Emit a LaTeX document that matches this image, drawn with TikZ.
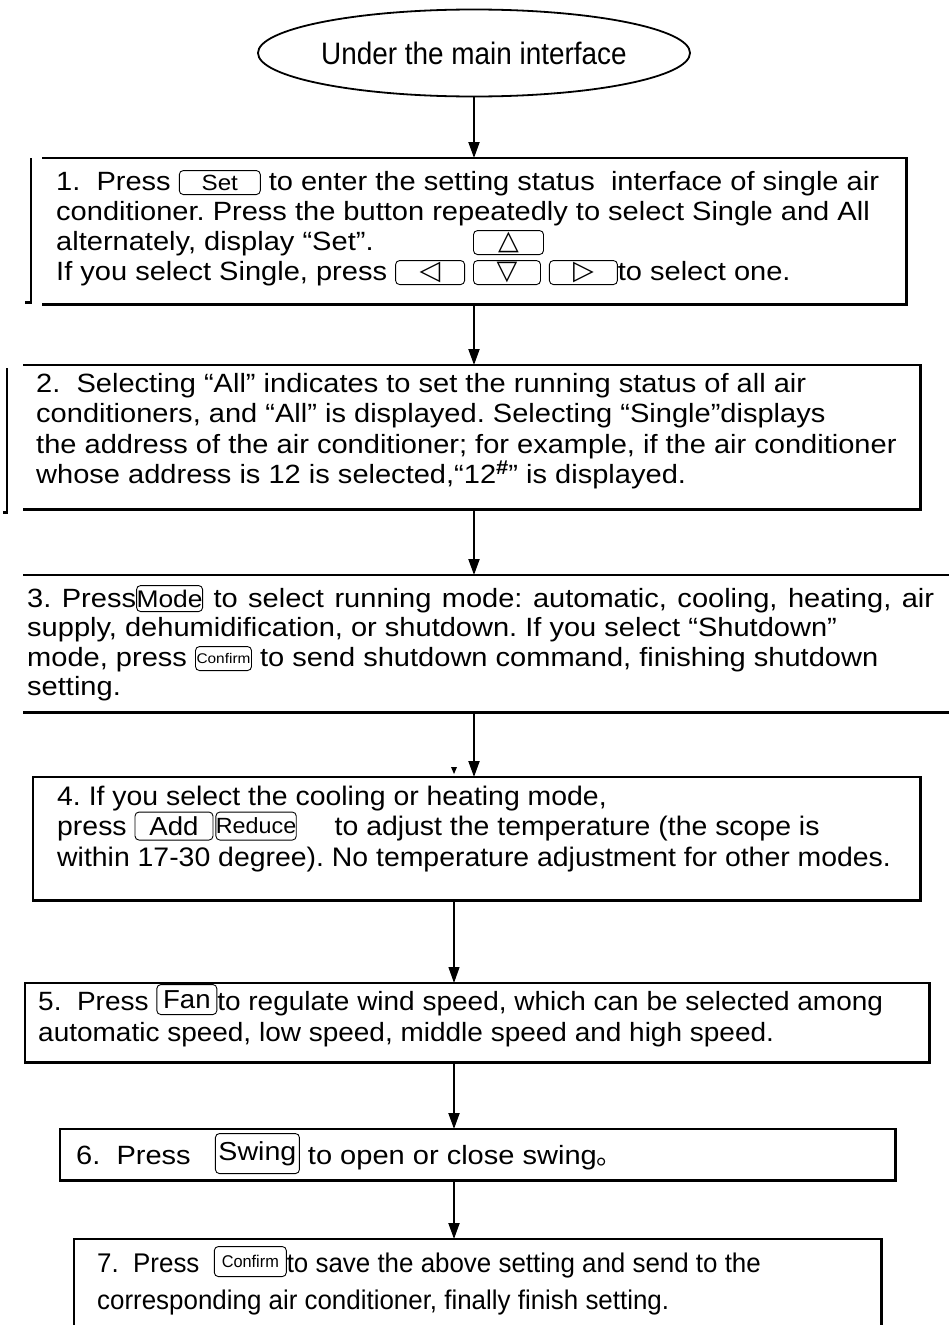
\documentclass[tikz,border=0pt]{standalone}
\usepackage{fontspec}
\setmainfont{Liberation Sans}[FakeStretch=1.1]
\newfontfamily\midfont{Liberation Sans}[FakeStretch=1.06]
\newfontfamily\narrowfont{Liberation Sans}[FakeStretch=0.96]
\newfontfamily\ovalfont{Liberation Sans}[FakeStretch=0.9]
\newfontfamily\symfont{DejaVu Sans}
\newfontfamily\cjkfont{Noto Sans CJK SC}
\usetikzlibrary{arrows.meta,positioning,shapes.geometric}

\newcommand\stepfont{\fontsize{26.4}{30}\selectfont}
\newlength\btndrop
\setlength\btndrop{5pt}
\newcommand\btn[3][]{\tikz[baseline={([yshift=\btndrop]k.south)}]\node[keycap,minimum width=#2pt,#1](k){#3};}
\newcommand\tri[1]{{\symfont\fontsize{27}{27}\selectfont #1}}
\newcommand\steplines[2][30pt]{\vtop{\baselineskip=#1\lineskiplimit=-100pt\lineskip=0pt\halign{##\hfil\cr#2\crcr}}}

\tikzset{
  frame/.style={line width=2.2pt},
  flow/.style={line width=2pt,-{Triangle[length=16pt,width=11pt]}},
  keycap/.style={draw,line width=0.9pt,rounded corners=4pt,inner sep=0pt,anchor=center,
    minimum height=24pt,font=\fontsize{22}{22}\selectfont},
  steptext/.style={inner sep=0pt,anchor=base west,font=\stepfont},
  area/.style 2 args={inner sep=0pt,anchor=north west,minimum width=#1pt,minimum height=#2pt},
}

\begin{document}
\frenchspacing
\begin{tikzpicture}[x=1pt,y=-1pt]
  \useasboundingbox (0,0) rectangle (949,1325);

  % start
  \node[ellipse,draw,line width=1.8pt,inner sep=0pt,minimum width=345pt,minimum height=87pt,
    font=\ovalfont\fontsize{31}{30}\selectfont] (start) at (474,53) {Under the main interface};

  % step areas
  \node[area={864}{146}] (s1) at (42,158) {};
  \node[area={897}{144}] (s2) at (23,365) {};
  \node[area={940}{137}] (s3) at (23,575) {};
  \node[area={887}{123}] (s4) at (33,777) {};
  \node[area={904}{79}] (s5) at (25,983) {};
  \node[area={835}{51}] (s6) at (60,1129) {};
  \node[area={807}{120}] (s7) at (74,1239) {};
  \coordinate (hi) at (474,0);
  \coordinate (lo) at (454,0);

  % frames
  \draw[frame] (s1.north west) -| (s1.south east) -- (s1.south west);
  \draw[frame] ([xshift=-11pt]s1.north west) |- ([xshift=-17pt,yshift=2pt]s1.south west);
  \draw[frame] (s2.north west) -| (s2.south east) -- (s2.south west);
  \draw[frame] ([xshift=-16pt,yshift=-3pt]s2.north west) |- ([xshift=-20pt,yshift=-3pt]s2.south west);
  \draw[frame,line width=2.6pt] (s3.north west) -- (s3.north east) (s3.south west) -- (s3.south east);
  \draw[frame] (s4.north west) rectangle (s4.south east);
  \draw[frame] (s5.north west) rectangle (s5.south east);
  \draw[frame] (s6.north west) rectangle (s6.south east);
  \draw[frame] (s7.south west) |- (s7.north east) -- (s7.south east);

  % texts
  \node[steptext] (t1) at (56,190) {\steplines{%
    1.\ \ Press \btn{81}{Set} to enter the setting status\ \ interface of single air\cr
    conditioner. Press the button repeatedly to select Single and All\cr
    \rlap{alternately, display “Set”.}\phantom{If you select Single, press \btn{69}{\tri{◁}}\hspace{8pt}}\btn{70}{\tri{△}}\cr
    If you select Single, press \btn{69}{\tri{◁}}\hspace{8pt}\btn{67}{\tri{▽}}\hspace{8pt}\btn{68}{\tri{▷}}to select one.}};
  \node[steptext] (t2) at (36,392) {\steplines[30.5pt]{%
    2.\ \ Selecting “All” indicates to set the running status of all air\cr
    conditioners, and “All” is displayed. Selecting “Single”displays\cr
    the address of the air conditioner; for example, if the air conditioner\cr
    whose address is 12 is selected,“12\raisebox{9pt}{\fontsize{20}{20}\selectfont\bfseries\#}” is displayed.}};
  \node[steptext] (t3) at (27,607) {\steplines[29.5pt]{%
    \makebox[907pt][s]{3. Press\btn[minimum height=26pt,font=\fontsize{24}{24}\selectfont]{66}{Mode} to select running mode: automatic, cooling, heating, air}\cr
    supply, dehumidification, or shutdown. If you select “Shutdown”\cr
    mode, press \btn[font=\fontsize{14}{14}\selectfont]{56}{Confirm} to send shutdown command, finishing shutdown\cr
    setting.}};
  \node[steptext,font=\midfont\fontsize{26.8}{30}\selectfont] (t4) at (57,805) {\steplines[30.5pt]{%
    4. If you select the cooling or heating mode,\cr
    press \btn[minimum height=28pt,font=\fontsize{26}{26}\selectfont]{78}{Add}\hspace{2pt}\btn[minimum height=28pt,font=\fontsize{22}{22}\selectfont]{80}{Reduce}\hspace{38pt}to adjust the temperature (the scope is\cr
    within 17-30 degree). No temperature adjustment for other modes.}};
  \node[steptext,font=\midfont\fontsize{26.4}{30}\selectfont] (t5) at (38,1010) {\steplines[31pt]{%
    5.\ \ Press \btn[minimum height=30pt,font=\fontsize{26}{26}\selectfont]{60}{Fan}to regulate wind speed, which can be selected among\cr
    automatic speed, low speed, middle speed and high speed.}};
  \node[steptext] (t6) at (76,1164) {%
    6.\ \ Press\ \ \ {\setlength\btndrop{10pt}\btn[minimum height=40pt,font=\fontsize{26}{26}\selectfont]{84}{Swing}} to open or close swing{\cjkfont 。}};
  \node[steptext,font=\narrowfont\fontsize{27}{30}\selectfont] (t7) at (97,1272) {\steplines[37pt]{%
    7.\ \ Press\ \ \btn[minimum height=30pt,font=\fontsize{17}{17}\selectfont]{72}{Confirm}to save the above setting and send to the\cr
    corresponding air conditioner, finally finish setting.}};

  % connectors
  \draw[flow] (start.south) -- (s1.north -| start.south);
  \draw[flow] (s1.south -| hi) -- (s2.north -| hi);
  \draw[flow] (s2.south -| hi) -- (s3.north -| hi);
  \draw[flow] (s3.south -| hi) -- (s4.north -| hi);
  \fill (s4.north -| lo) ++(-3,-10) -- ++(6,0) -- ++(-3,7) -- cycle;
  \draw[flow,line width=1.2pt] (s4.south -| lo) -- (s5.north -| lo);
  \draw[flow] (s5.south -| lo) -- (s6.north -| lo);
  \draw[flow] (s6.south -| lo) -- (s7.north -| lo);
\end{tikzpicture}
\end{document}
